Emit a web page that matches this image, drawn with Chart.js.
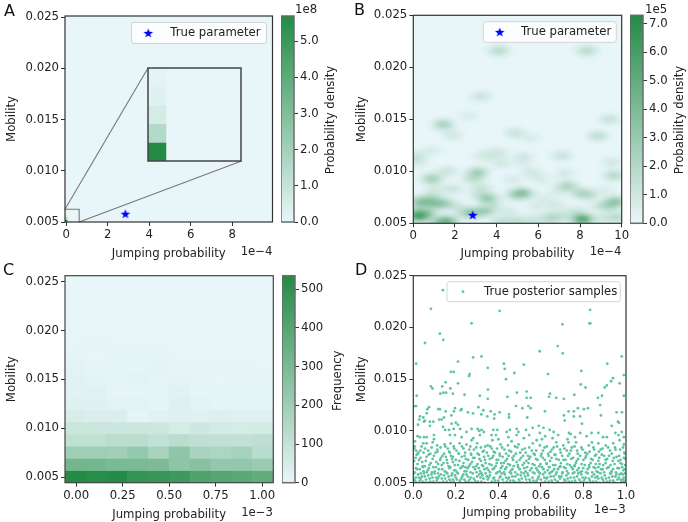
<!DOCTYPE html>
<html>
<head>
<meta charset="utf-8">
<title>Posterior panels</title>
<script src="https://cdn.jsdelivr.net/npm/chart.js@4"></script>
<style>
  body { margin: 0; background: #fff; }
  canvas { position: absolute; filter: blur(0.3px); }
  .tag { position: absolute; font: 16px "DejaVu Sans"; color: #111; line-height: 16px; filter: blur(0.3px); }
</style>
</head>
<body>
<canvas id="panelA" style="left:0;top:0"></canvas>
<canvas id="barA" style="left:281px;top:0"></canvas>
<canvas id="insetA" style="left:145px;top:65px"></canvas>
<canvas id="panelB" style="left:344px;top:0"></canvas>
<canvas id="barB" style="left:630px;top:0"></canvas>
<canvas id="panelC" style="left:0;top:261px"></canvas>
<canvas id="barC" style="left:282px;top:261px"></canvas>
<canvas id="panelD" style="left:344px;top:261px"></canvas>
<div class="tag" style="left:4px;top:3px">A</div>
<div class="tag" style="left:354px;top:2px">B</div>
<div class="tag" style="left:3px;top:262px">C</div>
<div class="tag" style="left:355px;top:262px">D</div>
<script>
const mobilityTicks = [0.005, 0.01, 0.015, 0.02, 0.025];
const mobilityLabels = ['0.005', '0.010', '0.015', '0.020', '0.025'];
const trueJump = 2.85; // 1e-4
const trueMobility = 0.0058;

// A: density grid around the origin (1e8)
const aCellX = [0, 0.137, 0.274, 0.411, 0.548];
const aCellY = [0.005125, 0.005375, 0.005625, 0.005875, 0.006125];
const aFirstColumn = [5.7, 1.55, 0.6, 0.25, 0.15];
const aTickX = [0, 2, 4, 6, 8];
const aBarTicks = [0, 1, 2, 3, 4, 5];
const aBarLabels = ['0.0', '1.0', '2.0', '3.0', '4.0', '5.0'];

// B: KDE bumps (1e-4, mobility, density 1e5)
const bBumpX = [4.11, 8.32, 3.23, 2.64, 9.42, 1.44, 1.87, 4.86, 5.63, 8.86, 0.86, 0.11, 0.27, 3.39, 4.06, 4.19, 5.3, 5.2, 7.1, 9.55, 0.88, 1.63, 3.1, 2.83, 5.7, 6.14, 4.75, 7.26, 9.63, 1.87, 3.31, 5.23, 4.85, 7.39, 6.9, 8.03, 8.43, 3.55, 0.92, 0.67, 1.47, 0.27, 1.03, 9.71, 9.39, 6.83, 6.91, 3.47, 0.27, 0.67, 0.11, 1.63, 1.23, 2.83, 8.11, 4.19, 4.99, 5.79, 6.59, 7.23, 9.79, 9.07, 2.43, 2.1, 3.9, 4.6, 5.9, 7.8, 8.9, 1.0, 3.0, 6.2, 9.2];
const bBumpY = [0.0216, 0.0216, 0.0172, 0.0153, 0.015, 0.0145, 0.0135, 0.0137, 0.0132, 0.0134, 0.012, 0.0114, 0.0108, 0.0115, 0.0118, 0.0108, 0.0114, 0.0108, 0.0115, 0.0109, 0.0093, 0.01, 0.0099, 0.0093, 0.0099, 0.0092, 0.0092, 0.0098, 0.0096, 0.0083, 0.0084, 0.0079, 0.0077, 0.0086, 0.0081, 0.0079, 0.0077, 0.0074, 0.0077, 0.0071, 0.0069, 0.007, 0.0069, 0.0071, 0.0067, 0.0068, 0.0059, 0.0062, 0.0057, 0.006, 0.006, 0.0052, 0.0051, 0.006, 0.0054, 0.0052, 0.0052, 0.0053, 0.0055, 0.0056, 0.0056, 0.0055, 0.006, 0.0066, 0.0067, 0.0061, 0.0066, 0.0062, 0.0066, 0.0085, 0.0078, 0.0074, 0.0082];
const bBumpD = [1.5, 1.5, 1.0, 0.5, 1.1, 2.0, 0.8, 1.0, 0.5, 1.3, 0.6, 1.0, 0.6, 0.8, 0.8, 0.8, 0.7, 0.4, 1.0, 0.8, 2.1, 1.0, 2.1, 1.3, 0.8, 0.6, 0.6, 0.7, 1.6, 1.0, 1.0, 2.9, 1.2, 1.8, 0.6, 1.5, 1.1, 2.5, 1.0, 1.8, 2.0, 2.3, 2.0, 2.5, 1.6, 0.7, 0.4, 2.0, 4.6, 2.1, 1.8, 3.4, 2.1, 2.5, 4.6, 1.2, 1.2, 1.0, 1.5, 0.8, 1.5, 0.8, 0.8, 0.8, 0.7, 0.7, 0.6, 0.9, 0.7, 0.5, 0.6, 0.5, 0.5];
const bTickX = [0, 2, 4, 6, 8, 10];
const bBarTicks = [0, 1, 2, 3, 4, 5, 6, 7];
const bBarLabels = ['0.0', '1.0', '2.0', '3.0', '4.0', '5.0', '6.0', '7.0'];

// C: histogram counts, bottom row first
const cColumns = [-0.004, 0.108, 0.22, 0.332, 0.444, 0.556, 0.668, 0.78, 0.892, 1.004];
const cRows = [0.00504, 0.00629, 0.00753, 0.00878, 0.01003, 0.01127, 0.01252, 0.01376, 0.01501, 0.01626, 0.0175, 0.01875, 0.02, 0.02124, 0.02249, 0.02373, 0.02498];
const cCounts = [
  [535, 525, 530, 490, 480, 465, 420, 400, 385, 365],
  [320, 315, 300, 300, 295, 245, 265, 230, 235, 210],
  [200, 200, 195, 227, 175, 240, 175, 162, 181, 132],
  [110, 112, 125, 125, 105, 125, 108, 112, 105, 118],
  [85, 85, 80, 78, 75, 55, 72, 60, 55, 60],
  [45, 38, 38, 12, 22, 28, 25, 32, 30, 30],
  [28, 25, 15, 15, 12, 28, 15, 12, 12, 12],
  [22, 22, 8, 12, 12, 20, 10, 10, 10, 10],
  [18, 14, 12, 16, 10, 14, 10, 5, 10, 10],
  [15, 12, 12, 10, 14, 8, 8, 8, 8, 6],
  [12, 6, 10, 10, 12, 6, 6, 2, 4, 6],
  [5, 8, 6, 6, 4, 4, 4, 2, 4, 4],
  [3, 5, 2, 2, 2, 2, 2, 1, 1, 2],
  [1, 4, 1, 2, 1, 1, 1, 2, 1, 1],
  [1, 1, 1, 2, 1, 1, 1, 1, 1, 1],
  [0, 1, 0, 0, 1, 0, 1, 0, 0, 0],
  [0, 0, 0, 0, 0, 0, 0, 0, 0, 0]
];
const cTickX = [0, 0.25, 0.5, 0.75, 1];
const cTickLabels = ['0.00', '0.25', '0.50', '0.75', '1.00'];
const cBarTicks = [0, 100, 200, 300, 400, 500];
const cBarLabels = ['0', '100', '200', '300', '400', '500'];

// D: posterior samples (1e-3, mobility)
const dTickX = [0, 0.2, 0.4, 0.6, 0.8, 1];
const dTickLabels = ['0.0', '0.2', '0.4', '0.6', '0.8', '1.0'];
const dSamples = [
[.139,.0236],[.083,.0218],[.406,.0216],[.831,.0217],[.274,.0204],[.828,.0204],[.832,.0204],[.701,.0203],[.125,.0194],[.141,.0188],[.055,.0185],[.679,.0182],[.703,.0175],[.594,.0177],[.013,.0165],[.21,.0167],[.281,.0171],[.321,.0172],[.98,.0172],[.912,.0165],[.426,.0165],[.52,.0164],[.35,.0161],[.43,.016],[.79,.0158],[.177,.0157],[.19,.0157],[.475,.0156],[.633,.0155],[.265,.0155],[.262,.0153],[.99,.0154],[.436,.015],[.939,.0151],[.152,.0147],[.93,.0148],[.21,.0146],[.97,.0146],[.787,.0145],[.083,.0143],[.09,.0141],[.136,.0143],[.81,.0142],[.9,.0142],[.91,.0144],[.351,.014],[.174,.0141],[.533,.0138],[.487,.0137],[.127,.0136],[.141,.0137],[.154,.0137],[.186,.0136],[.241,.0135],[.757,.0135],[.643,.0136],[.638,.0133],[.99,.0134],[.016,.0134],[.313,.0134],[.442,.0133],[.533,.0132],[.552,.0132],[.672,.0132],[.708,.0131],[.868,.0132],[.887,.0134],[.35,.0131],[.878,.0125],
[.006,.0124],[.013,.0124],[.074,.0123],[.066,.0121],[.306,.0123],[.196,.0122],[.227,.0121],[.223,.012],[.483,.0124],[.513,.0122],[.541,.0124],[.552,.0122],[.118,.0121],[.125,.0121],[.329,.012],[.364,.0119],[.774,.0122],[.802,.0121],[.821,.0122],[.755,.0119],[.73,.0119],[.708,.0115],[.712,.011],[.619,.0119],[.152,.0119],[.144,.0113],[.179,.0115],[.191,.0119],[.956,.0118],[.981,.0118],[.031,.0114],[.028,.0111],[.022,.0106],[.063,.0117],[.05,.0109],[.257,.0118],[.281,.0117],[.32,.0116],[.382,.0116],[.406,.0118],[.45,.0116],[.45,.0113],[.348,.0114],[.38,.0112],[.755,.0114],[.784,.0114],[.793,.0107],[.882,.0115],[.933,.0105],[.962,.0109],[.967,.0108],[.078,.0109],[.094,.0109],[.536,.0113],
[.047,.0113],[.055,.011],[.078,.0105],[.122,.0111],[.133,.0111],[.18,.0107],[.2,.0108],[.21,.0106],[.22,.0102],[.19,.0102],[.14,.0104],[.15,.0101],[.168,.0101],[.172,.0096],[.196,.0096],[.227,.0094],[.25,.0099],[.274,.0102],[.303,.0102],[.31,.01],[.321,.0101],[.332,.0099],[.313,.0096],[.282,.0093],[.274,.0091],[.376,.0101],[.395,.0101],[.368,.0096],[.389,.0096],[.372,.0091],[.4,.0092],[.439,.0099],[.447,.0094],[.454,.0101],[.486,.0102],[.494,.0099],[.462,.009],[.486,.0096],[.02,.0095],[.031,.0094],[.05,.0094],[.063,.0094],[.097,.0096],[.097,.0092],[.047,.0088],[.063,.0088],[.091,.0089],[.008,.009],[.013,.0081],[.016,.0077],[.039,.0085],[.055,.0083],[.07,.0081],
[.53,.0101],[.561,.0103],[.59,.0105],[.612,.0103],[.641,.0101],[.66,.0099],[.681,.0096],[.595,.0098],[.62,.0095],[.545,.0096],[.52,.0093],[.58,.0091],[.605,.0092],[.655,.0093],[.672,.0089],[.732,.0098],[.74,.0097],[.725,.0092],[.76,.0094],[.785,.0098],[.815,.0095],[.838,.0098],[.87,.0098],[.892,.0094],[.91,.0094],[.95,.0098],[.965,.0096],[.98,.0099],[.99,.0094],[.97,.0091],[.94,.0088],[.99,.0087],[.765,.0089],[.73,.0089],[.84,.0089],[.87,.0088],[.905,.0086],
[.112,.0086],[.128,.0084],[.147,.0087],[.162,.0083],[.175,.0088],[.19,.0085],[.203,.0081],[.218,.0088],[.236,.0083],[.25,.0087],[.268,.0085],[.285,.0082],[.3,.0088],[.318,.0084],[.332,.0081],[.35,.0086],[.362,.0085],[.378,.008],[.394,.0083],[.41,.0087],[.428,.0082],[.445,.0086],[.46,.008],[.478,.0085],[.495,.0087],[.512,.0082],[.528,.0079],[.545,.0084],[.562,.0088],[.578,.0081],[.595,.0086],[.61,.0081],[.628,.0085],[.645,.008],[.66,.0084],[.69,.0082],[.705,.0086],[.722,.0081],[.745,.0084],[.77,.0081],[.79,.0084],[.808,.0079],[.825,.0086],[.85,.0082],[.872,.008],[.89,.0083],[.925,.0081],[.948,.0084],[.972,.0082],[.992,.0079],
[.006,.0085],[.024,.0079],[.034,.0074],[.048,.0079],[.062,.0075],[.08,.0078],[.097,.0076],[.114,.008],[.13,.0074],[.145,.0078],[.158,.0072],[.172,.0079],[.186,.0075],[.2,.0072],[.214,.0078],[.228,.0075],[.244,.0079],[.258,.0072],[.272,.0077],[.288,.0074],[.302,.0078],[.318,.0071],[.333,.0075],[.346,.0079],[.36,.0073],[.376,.0076],[.392,.0072],[.406,.0078],[.42,.0075],[.434,.0071],[.448,.0076],[.466,.0074],[.482,.0078],[.5,.0072],[.516,.0076],[.532,.0071],[.55,.0075],[.566,.0078],[.584,.0072],[.6,.0076],[.618,.0072],[.634,.0078],[.65,.0074],[.668,.0077],[.684,.0072],[.7,.0076],[.716,.0072],[.734,.0078],[.752,.0074],[.768,.0071],[.784,.0076],[.8,.0072],[.818,.0078],[.836,.0073],[.854,.0076],[.87,.0071],[.886,.0077],[.904,.0072],[.92,.0076],[.938,.0071],[.956,.0075],[.974,.0072],[.99,.0074],
[.004,.0071],[.02,.0068],[.03,.0063],[.042,.007],[.054,.0066],[.068,.0062],[.082,.0069],[.094,.0065],[.108,.007],[.12,.0063],[.134,.0067],[.148,.0061],[.16,.0069],[.174,.0065],[.186,.007],[.198,.0062],[.21,.0067],[.222,.0064],[.236,.0069],[.25,.0061],[.262,.0066],[.276,.007],[.29,.0063],[.302,.0068],[.314,.0061],[.328,.0066],[.34,.0069],[.354,.0062],[.368,.0067],[.38,.0064],[.392,.0069],[.406,.0061],[.418,.0066],[.432,.0063],[.446,.0068],[.46,.0062],[.472,.0066],[.486,.007],[.5,.0063],[.514,.0067],[.528,.0061],[.542,.0069],[.556,.0064],[.57,.0067],[.584,.0062],[.598,.0068],[.612,.0063],[.626,.0069],[.64,.0065],[.654,.0061],[.668,.0067],[.68,.0063],[.694,.0069],[.708,.0065],[.722,.0061],[.736,.0067],[.75,.0063],[.764,.0069],[.778,.0064],[.792,.0061],[.806,.0067],[.82,.0063],[.834,.0069],[.848,.0065],[.862,.0061],[.876,.0068],[.89,.0063],[.904,.0069],[.918,.0065],[.932,.0061],[.946,.0068],[.96,.0064],[.974,.0069],[.988,.0062],[.996,.0067],[.013,.0064],[.048,.0061],[.101,.0061],[.142,.0069],[.245,.0065],[.347,.0064],[.425,.0069],[.535,.0065],[.632,.0062],[.758,.0066],[.87,.0065],[.982,.0065],
[.003,.0059],[.012,.0055],[.022,.0058],[.03,.0052],[.04,.0056],[.05,.0059],[.06,.0053],[.07,.0057],[.08,.0051],[.09,.0055],[.1,.0059],[.11,.0052],[.12,.0056],[.13,.0058],[.14,.0051],[.15,.0054],[.16,.0059],[.17,.0053],[.18,.0057],[.19,.0051],[.2,.0055],[.21,.0059],[.22,.0052],[.23,.0056],[.24,.0053],[.25,.0058],[.26,.0051],[.27,.0055],[.28,.0059],[.29,.0052],[.3,.0056],[.31,.0058],[.32,.0051],[.33,.0054],[.34,.0059],[.35,.0053],[.36,.0057],[.37,.0051],[.38,.0055],[.39,.0059],[.4,.0052],[.41,.0056],[.42,.0053],[.43,.0058],[.44,.0051],[.45,.0055],[.46,.0059],[.47,.0052],[.48,.0056],[.49,.0058],[.5,.0051],[.51,.0054],[.52,.0059],[.53,.0053],[.54,.0057],[.55,.0051],[.56,.0055],[.57,.0059],[.58,.0052],[.59,.0056],[.6,.0053],[.61,.0058],[.62,.0051],[.63,.0055],[.64,.0059],[.65,.0052],[.66,.0056],[.67,.0058],[.68,.0051],[.69,.0054],[.7,.0059],[.71,.0053],[.72,.0057],[.73,.0051],[.74,.0055],[.75,.0059],[.76,.0052],[.77,.0056],[.78,.0053],[.79,.0058],[.8,.0051],[.81,.0055],[.82,.0059],[.83,.0052],[.84,.0056],[.85,.0058],[.86,.0051],[.87,.0054],[.88,.0059],[.89,.0053],[.9,.0057],[.91,.0051],[.92,.0055],[.93,.0059],[.94,.0052],[.95,.0056],[.96,.0053],[.97,.0058],[.98,.0051],[.99,.0055],[.996,.0059],
[.008,.0052],[.035,.0054],[.056,.005],[.085,.0058],[.115,.0054],[.145,.0057],[.175,.0051],[.205,.0053],[.235,.0058],[.265,.0053],[.295,.005],[.325,.0057],[.355,.0055],[.385,.0052],[.415,.0059],[.445,.0054],[.475,.0051],[.505,.0057],[.535,.005],[.565,.0052],[.595,.0059],[.625,.0054],[.655,.005],[.685,.0056],[.715,.0052],[.745,.0051],[.775,.0059],[.805,.0053],[.835,.005],[.865,.0056],[.895,.0051],[.925,.0052],[.955,.0058],[.975,.0053],[.985,.0058],[.992,.0051],
[.005,.0083],[.021,.0078],[.033,.0081],[.072,.0077],[.086,.0084],[.104,.0079],[.113,.0082],[.137,.0076],[.151,.0085],[.168,.008],[.177,.0076],[.193,.0083],[.214,.0078],[.229,.0085],[.241,.0076],[.263,.0082],[.271,.0078],[.296,.0084],[.309,.0077],[.326,.008],[.338,.0085],[.352,.0076],[.369,.0083],[.384,.0079],[.407,.0076],[.417,.0084],[.436,.0078],[.451,.0081],[.473,.0076],[.489,.0084],[.503,.0079],[.524,.0083],[.539,.0076],[.557,.0081],[.571,.0077],[.603,.0078],[.617,.0084],[.636,.0076],[.652,.0082],[.664,.0077],[.676,.0085],[.693,.0079],[.711,.0083],[.727,.0076],[.741,.0081],[.758,.0085],[.773,.0078],[.796,.0082],[.812,.0076],[.829,.008],[.847,.0084],[.859,.0077],[.881,.0082],[.897,.0076],[.916,.0084],[.933,.0078],[.951,.0082],[.968,.0076],[.986,.0084],[.994,.0078],
[.011,.0074],[.027,.0072],[.044,.0066],[.059,.0071],[.076,.0067],[.091,.0073],[.117,.0068],[.126,.0072],[.153,.0075],[.166,.0066],[.182,.0073],[.195,.0067],[.217,.0071],[.233,.0066],[.247,.0073],[.268,.0068],[.281,.0074],[.296,.0066],[.311,.0073],[.323,.0067],[.337,.0072],[.358,.0068],[.371,.0074],[.387,.0066],[.399,.0072],[.413,.0069],[.441,.0073],[.455,.0067],[.469,.0072],[.491,.0067],[.507,.0074],[.521,.0069],[.544,.0073],[.561,.0068],[.577,.0073],[.592,.0066],[.609,.0074],[.627,.0068],[.643,.0071],[.657,.0067],[.673,.0073],[.691,.0066],[.706,.0072],[.724,.0068],[.743,.0073],[.759,.0067],[.775,.0073],[.791,.0068],[.809,.0074],[.827,.0067],[.843,.0072],[.858,.0068],[.874,.0074],[.893,.0067],[.911,.0073],[.927,.0067],[.943,.0074],[.964,.0071],[.981,.0068],[.997,.0073],
[.007,.006],[.017,.0063],[.035,.0059],[.046,.0065],[.063,.006],[.073,.0064],[.088,.006],[.106,.0065],[.116,.0059],[.136,.0063],[.155,.006],[.169,.0064],[.183,.0059],[.192,.0062],[.206,.006],[.227,.0065],[.241,.0061],[.256,.0064],[.269,.006],[.283,.0065],[.297,.006],[.308,.0064],[.321,.0059],[.335,.0063],[.361,.006],[.374,.0063],[.396,.006],[.412,.0064],[.426,.006],[.438,.0065],[.453,.006],[.466,.0063],[.479,.006],[.493,.0065],[.508,.006],[.522,.0064],[.537,.0059],[.549,.0062],[.563,.006],[.578,.0064],[.591,.006],[.605,.0065],[.619,.006],[.638,.0065],[.647,.006],[.662,.0063],[.674,.006],[.688,.0065],[.702,.006],[.716,.0064],[.729,.0059],[.744,.0065],[.757,.006],[.771,.0062],[.784,.006],[.799,.0064],[.813,.006],[.827,.0065],[.841,.006],[.855,.0064],[.869,.006],[.883,.0063],[.897,.006],[.911,.0064],[.925,.0059],[.939,.0063],[.953,.006],[.967,.0064],[.979,.0059],[.993,.0063],
[.002,.0053],[.016,.005],[.026,.0055],[.044,.0051],[.054,.0056],[.067,.005],[.077,.0054],[.094,.0051],[.107,.0055],[.124,.005],[.134,.0054],[.157,.0051],[.166,.0056],[.186,.0053],[.196,.0057],[.214,.005],[.226,.0054],[.246,.0051],[.256,.0056],[.275,.005],[.284,.0054],[.304,.0051],[.316,.0055],[.336,.005],[.346,.0056],[.366,.005],[.376,.0054],[.396,.005],[.406,.0055],[.424,.005],[.436,.0055],[.456,.0052],[.466,.0056],[.486,.005],[.496,.0053],[.516,.005],[.526,.0056],[.546,.0053],[.574,.005],[.586,.0054],[.606,.005],[.616,.0055],[.636,.0051],[.646,.0056],[.666,.0053],[.676,.0051],[.696,.0056],[.706,.005],[.726,.0054],[.736,.005],[.756,.0055],[.766,.005],[.786,.0051],[.796,.0055],[.816,.005],[.826,.0054],[.846,.0051],[.856,.0055],[.876,.005],[.886,.0055],[.906,.0054],[.916,.005],[.936,.0056],[.946,.005],[.966,.0055],[.976,.005],[.986,.0053],[.998,.0052]
];

const lowColor = [233, 246, 249];
const highColor = [35, 139, 69];
const scatterColor = '#5fc5a1';
const inkColor = '#222';
const fontName = '"DejaVu Sans"';
const fontSize = 11.7;

Chart.defaults.font.family = fontName;
Chart.defaults.font.size = fontSize;
Chart.defaults.color = inkColor;
Chart.defaults.animation = false;
Chart.defaults.events = [];

function shade(t) {
  t = Math.min(1, Math.max(0, t));
  const c = lowColor.map((v, i) => Math.round(v + (highColor[i] - v) * t));
  return 'rgb(' + c.join(',') + ')';
}

function makeStar(r) {
  const sprite = document.createElement('canvas');
  sprite.width = sprite.height = Math.ceil(r * 2 + 2);
  const g = sprite.getContext('2d');
  g.translate(sprite.width / 2, sprite.height / 2 + 0.5);
  g.beginPath();
  for (let i = 0; i < 10; i++) {
    const rad = i % 2 ? r * 0.42 : r;
    const a = -Math.PI / 2 + i * Math.PI / 5;
    g.lineTo(rad * Math.cos(a), rad * Math.sin(a));
  }
  g.closePath();
  g.fillStyle = '#0000ff';
  g.fill();
  return sprite;
}
const starSprite = makeStar(5);

// soft elliptical sprite for a KDE bump
const bumpCache = {};
function bumpSprite(density) {
  if (bumpCache[density]) return bumpCache[density];
  const sprite = document.createElement('canvas');
  sprite.width = 40;
  sprite.height = 22;
  const g = sprite.getContext('2d');
  g.translate(20, 11);
  g.scale(20 / 11, 1);
  const grad = g.createRadialGradient(0, 0, 0, 0, 0, 11);
  const peak = density / 6.5;
  [[0, 1], [0.2, 0.85], [0.4, 0.52], [0.6, 0.22], [0.8, 0.06], [1, 0]].forEach(s => {
    grad.addColorStop(s[0], 'rgba(35,139,69,' + (peak * s[1]).toFixed(3) + ')');
  });
  g.fillStyle = grad;
  g.fillRect(-11, -11, 22, 22);
  bumpCache[density] = sprite;
  return sprite;
}

// frame, fill, legend and free text for each canvas
const decor = {};
const decorPlugin = {
  id: 'decor',
  beforeDatasetsDraw(chart) {
    const d = decor[chart.canvas.id];
    const a = chart.chartArea;
    if (d && d.fill) {
      chart.ctx.fillStyle = d.fill;
      chart.ctx.fillRect(a.left, a.top, a.width, a.height);
    }
  },
  afterDraw(chart) {
    const d = decor[chart.canvas.id];
    if (!d) return;
    const ctx = chart.ctx;
    const a = chart.chartArea;
    ctx.save();
    ctx.strokeStyle = d.frame || '#333';
    ctx.lineWidth = d.frameWidth || 1.2;
    ctx.strokeRect(a.left, a.top, a.width, a.height);
    ctx.font = fontSize + 'px ' + fontName;
    ctx.fillStyle = inkColor;
    ctx.textBaseline = 'middle';
    (d.texts || []).forEach(t => {
      ctx.save();
      ctx.translate(t.x, t.y);
      if (t.rotate) ctx.rotate(-Math.PI / 2);
      ctx.textAlign = t.align || 'center';
      ctx.fillText(t.text, 0, 0);
      ctx.restore();
    });
    if (d.legend) {
      const l = d.legend;
      ctx.beginPath();
      ctx.roundRect(l.x, l.y, l.w, l.h, 2.5);
      ctx.fillStyle = 'rgba(255,255,255,0.8)';
      ctx.fill();
      ctx.strokeStyle = '#d4d4d4';
      ctx.lineWidth = 1;
      ctx.stroke();
      if (l.dot) {
        ctx.beginPath();
        ctx.arc(l.markX, l.y + l.h / 2, 1.4, 0, Math.PI * 2);
        ctx.fillStyle = scatterColor;
        ctx.fill();
      } else {
        ctx.drawImage(starSprite, l.markX - starSprite.width / 2, l.y + l.h / 2 - starSprite.height / 2);
      }
      ctx.fillStyle = inkColor;
      ctx.textAlign = 'left';
      ctx.fillText(l.text, l.textX, l.y + l.h / 2);
    }
    ctx.restore();
  }
};
Chart.register(decorPlugin);

function axis(position, min, max, tickValues, tickLabels, boxSize, title, titlePad) {
  return {
    type: 'linear',
    position: position,
    min: min,
    max: max,
    offset: false,
    grid: { offset: false, drawOnChartArea: false, drawTicks: true, tickLength: 4, color: '#333', lineWidth: 1 },
    border: { display: false },
    ticks: {
      autoSkip: false,
      maxRotation: 0,
      minRotation: 0,
      padding: 2,
      color: inkColor,
      callback: (v, i) => tickLabels[i]
    },
    title: { display: !!title, text: title, color: inkColor, padding: titlePad },
    afterBuildTicks(s) { s.ticks = tickValues.map(v => ({ value: v })); },
    afterFit(s) {
      if (position === 'bottom') s.height = boxSize; else s.width = boxSize;
      s.paddingLeft = s.paddingRight = s.paddingTop = s.paddingBottom = 0;
    }
  };
}

function baseOptions(padding, scales) {
  return {
    responsive: false,
    maintainAspectRatio: false,
    layout: { padding: padding },
    plugins: { legend: { display: false }, tooltip: { enabled: false } },
    scales: scales
  };
}

function sizeCanvas(id, w, h) {
  const c = document.getElementById(id);
  c.width = w;
  c.height = h;
  return c;
}

// heat cells as floating bars on a linear x scale
function cellData(xs, ys, rowStep, valueAt) {
  const cells = [];
  const colors = [];
  ys.forEach((y, r) => xs.forEach((x, k) => {
    cells.push({ x: x, y: [y - rowStep / 2, y + rowStep / 2] });
    colors.push(shade(valueAt(r, k)));
  }));
  return { data: cells, backgroundColor: colors, borderWidth: 0, barPercentage: 1, categoryPercentage: 1 };
}

function colorBar(id, top, height, w, maxVal, ticks, labels, texts) {
  const barW = 13;
  decor[id] = { frame: '#6b6b6b', frameWidth: 1.5, texts: texts };
  new Chart(sizeCanvas(id, w, 261), {
    type: 'bar',
    data: {
      labels: [''],
      datasets: [{
        data: [[0, maxVal]],
        borderWidth: 0,
        barPercentage: 1,
        categoryPercentage: 1,
        backgroundColor(ctx) {
          const a = ctx.chart.chartArea;
          if (!a) return shade(0.5);
          const g = ctx.chart.ctx.createLinearGradient(0, a.bottom, 0, a.top);
          g.addColorStop(0, shade(0));
          g.addColorStop(1, shade(1));
          return g;
        }
      }]
    },
    options: baseOptions({ top: top, bottom: 261 - top - height, left: 0, right: 0 }, {
      x: { display: false },
      y: axis('right', 0, maxVal, ticks, labels, w - barW)
    })
  });
}

const aCellValue = (r, k) => (k === 0 ? aFirstColumn[r] / 5.7 : 0);

// Panel A
decor.panelA = {
  fill: shade(0),
  texts: [{ text: '1e\u22124', x: 272.5, y: 252, align: 'right' }],
  legend: { x: 131.5, y: 22.5, w: 135, h: 21, markX: 148.3, textX: 170.3, text: 'True parameter' }
};
new Chart(sizeCanvas('panelA', 280, 261), {
  type: 'bar',
  data: {
    datasets: [
      { type: 'scatter', data: [{ x: trueJump, y: trueMobility }], pointStyle: starSprite, pointRadius: 5 },
      { type: 'line', data: [{ x: -0.063, y: 0.00624 }, { x: 3.945, y: 0.02005 }], borderColor: '#777', borderWidth: 1.1, pointRadius: 0, clip: false },
      { type: 'line', data: [{ x: 0.62, y: 0.005 }, { x: 8.45, y: 0.01095 }], borderColor: '#777', borderWidth: 1.1, pointRadius: 0, clip: false },
      { type: 'line', data: [{ x: -0.063, y: 0.00624 }, { x: 0.62, y: 0.00624 }, { x: 0.62, y: 0.005 }], borderColor: '#777', borderWidth: 1.1, pointRadius: 0 },
      cellData(aCellX, aCellY, 0.00025, aCellValue)
    ]
  },
  options: baseOptions({ top: 16, right: 7.5, left: 0, bottom: 0 }, {
    x: axis('bottom', -0.063, 9.94, aTickX, aTickX.map(String), 39, 'Jumping probability', { top: 0, bottom: 0 }),
    y: axis('left', 0.005, 0.0251, mobilityTicks, mobilityLabels, 65, 'Mobility', { top: 5, bottom: 0 })
  })
});

decor.insetA = { fill: shade(0), frame: '#444', frameWidth: 1.5 };
new Chart(sizeCanvas('insetA', 99, 99), {
  type: 'bar',
  data: { datasets: [cellData(aCellX, aCellY, 0.00025, aCellValue)] },
  options: baseOptions(3, {
    x: { type: 'linear', display: false, offset: false, min: -0.0685, max: 0.6165, grid: { offset: false } },
    y: { type: 'linear', display: false, min: 0.005, max: 0.00625 }
  })
});

colorBar('barA', 16, 206, 63, 5.7, aBarTicks, aBarLabels, [
  { text: '1e8', x: 14, y: 10, align: 'left' },
  { text: 'Probability density', x: 50, y: 120, rotate: true }
]);

// Panel B
decor.panelB = {
  fill: shade(0),
  legend: { x: 139.3, y: 21.7, w: 133, h: 20.6, markX: 155.7, textX: 177, text: 'True parameter' },
  texts: [{ text: '1e\u22124', x: 277.5, y: 252, align: 'right' }]
};
new Chart(sizeCanvas('panelB', 300, 261), {
  type: 'scatter',
  data: {
    datasets: [
      { data: [{ x: trueJump, y: trueMobility }], pointStyle: starSprite, pointRadius: 5 },
      {
        data: bBumpX.map((x, i) => ({ x: x, y: bBumpY[i] })),
        pointStyle: ctx => bumpSprite(bBumpD[ctx.dataIndex]),
        pointRadius: 5
      }
    ]
  },
  options: baseOptions({ top: 15.3, right: 22.3, left: 0, bottom: 0 }, {
    x: axis('bottom', 0, 10, bTickX, bTickX.map(String), 37.7, 'Jumping probability', { top: 0, bottom: 0 }),
    y: axis('left', 0.005, 0.025, mobilityTicks, mobilityLabels, 69.3, 'Mobility', { top: 10.6, bottom: 0 })
  })
});

colorBar('barB', 15.3, 208, 58, 7.3, bBarTicks, bBarLabels, [
  { text: '1e5', x: 15, y: 10, align: 'left' },
  { text: 'Probability density', x: 50, y: 120, rotate: true }
]);

// Panel C
decor.panelC = {
  frame: '#444',
  texts: [{ text: '1e\u22123', x: 273, y: 251.7, align: 'right' }]
};
new Chart(sizeCanvas('panelC', 290, 261), {
  type: 'bar',
  data: { datasets: [cellData(cColumns, cRows, 0.001246, (r, k) => cCounts[r][k] / 535)] },
  options: baseOptions({ top: 14.7, right: 16.7, left: 0, bottom: 0 }, {
    x: axis('bottom', -0.06, 1.0596, cTickX, cTickLabels, 39.3, 'Jumping probability', { top: 0, bottom: 0.2 }),
    y: axis('left', 0.00442, 0.02561, mobilityTicks, mobilityLabels, 65, 'Mobility', { top: 5, bottom: 0 })
  })
});

colorBar('barC', 14.7, 207, 62, 535, cBarTicks, cBarLabels, [
  { text: 'Frequency', x: 56, y: 119.7, rotate: true }
]);

// Panel D
decor.panelD = {
  legend: { x: 103, y: 20.7, w: 173.3, h: 20, dot: true, markX: 119, textX: 140, text: 'True posterior samples' },
  texts: [{ text: '1e\u22123', x: 281.7, y: 249, align: 'right' }]
};
new Chart(sizeCanvas('panelD', 344, 261), {
  type: 'scatter',
  data: {
    datasets: [{
      data: dSamples.map(p => ({ x: p[0], y: p[1] })),
      pointRadius: 1.4,
      pointBorderWidth: 0,
      pointBackgroundColor: scatterColor
    }]
  },
  options: baseOptions({ top: 14.7, right: 62, left: 0, bottom: 0 }, {
    x: axis('bottom', 0, 1, dTickX, dTickLabels, 39.3, 'Jumping probability', { top: 0, bottom: 1.8 }),
    y: axis('left', 0.005, 0.025, mobilityTicks, mobilityLabels, 69.3, 'Mobility', { top: 10.6, bottom: 0 })
  })
});
</script>
</body>
</html>
